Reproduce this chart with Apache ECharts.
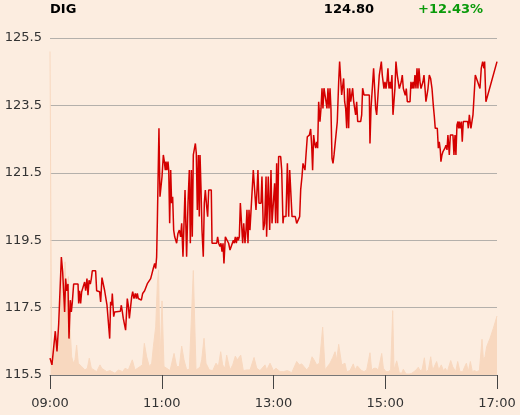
<!DOCTYPE html>
<html>
<head>
<meta charset="utf-8">
<script src="https://cdn.jsdelivr.net/npm/echarts@6/dist/echarts.min.js"></script>
<style>
html,body{margin:0;padding:0;background:#fcede0;}
#chart{width:520px;height:415px;}
</style>
</head>
<body>
<div id="chart"></div>
<script>
// Header values
const ticker = "DIG";
const lastPrice = "124.80";
const changePct = "+12.43%";

// Axis ticks
const yTicks = [115.5, 117.5, 119.5, 121.5, 123.5, 125.5];
const xTickMinutes = [0, 120, 240, 360, 480]; // minutes after 09:00

// Price series: [minutes after 09:00, price]
const pricePoints = [
[0,116.0],[2.1,115.8],[5.7,116.8],[7.5,116.2],[9.3,117.0],[10.7,117.05],[12.2,119.0],[13.6,118.56],[15.0,118.56],[15.7,117.37],[16.8,118.36],[17.9,118.0],[19.3,118.2],[20.4,116.58],[21.8,117.72],[22.9,117.37],[24.0,117.67],[25.4,118.2],[30.1,118.2],[30.8,117.62],[31.8,118.0],[32.9,117.62],[34.0,117.97],[35.8,118.0],[37.2,118.26],[38.3,118.0],[39.7,118.36],[40.8,117.87],[41.9,118.31],[43.3,118.2],[44.4,118.36],[45.4,118.59],[49.0,118.59],[50.1,118.0],[53.3,117.97],[54.4,117.67],[55.8,118.39],[57.6,118.39],[58.7,118.0],[59.8,118.0],[61.2,117.57],[62.3,117.57],[64.1,116.58],[65.1,117.67],[66.2,117.57],[66.9,117.92],[68.4,117.23],[69.4,117.37],[70.9,117.39],[75.5,117.39],[76.6,117.57],[77.7,117.37],[78.7,117.18],[80.2,117.18],[81.2,116.83],[82.3,116.83],[83.0,117.77],[84.1,117.57],[85.2,117.18],[86.6,117.18],[87.7,117.82],[88.8,117.97],[90.2,117.77],[91.6,117.92],[92.7,117.77],[93.8,117.92],[94.8,117.77],[95.9,117.72],[98.1,117.72],[99.5,117.92],[100.6,117.87],[101.6,118.0],[103.4,118.0],[104.5,118.21],[105.6,118.16],[106.6,118.23],[108.1,118.36],[109.5,118.51],[110.9,118.66],[112.4,118.81],[113.5,118.66],[114.5,119.0],[115.3,120.1],
[117.0,122.82],[118.1,120.79],[119.2,120.79],[120.3,121.39],[121.7,122.03],[122.8,121.83],[123.8,121.58],[124.6,121.83],[125.6,121.58],[126.7,121.83],[127.5,121.58],[128.5,120.0],[129.6,121.58],[130.6,120.6],[131.7,120.79],[132.8,119.8],[133.9,119.6],[135.3,119.6],[136.0,119.41],[137.4,119.7],[138.9,119.8],[140.3,119.6],[141.4,120.0],[142.8,119.01],[145.0,120.99],[146.7,119.01],[148.2,120.6],[149.6,121.58],[150.7,119.41],[151.8,121.58],[152.8,119.6],[153.9,122.03],[156.1,122.37],[157.1,122.08],[158.2,120.4],[159.3,122.03],[160.3,120.2],[161.1,122.03],[162.1,121.09],[163.2,119.8],[164.6,119.01],[165.7,120.6],[166.8,120.99],[168.2,120.5],[169.3,120.2],[170.4,120.99],[173.2,120.99],[174.0,119.41],[179.0,119.41],[180.0,119.6],[181.1,119.41],[182.5,119.31],[183.6,119.41],[184.7,119.16],[185.8,119.41],[186.8,118.81],[188.3,119.6],[190.4,119.6],[191.8,119.41],[193.3,119.21],[195.4,119.21],[196.9,119.5],[197.9,119.41],[199.0,119.6],[200.1,119.41],[201.2,119.6],[202.2,119.5],[203.3,119.6],[204.4,120.6],[205.8,120.6],[206.9,119.41],[208.0,120.0],[209.4,119.41],[210.5,119.8],[211.5,120.4],[212.6,119.41],[213.7,120.4],[214.7,119.8],[216.5,119.8],[218.3,121.58],[219.7,121.58],[221.2,120.4],[222.3,120.99],[223.3,121.58],[224.4,120.6],[226.6,120.6],[227.6,121.39],[229.1,119.8],[230.5,120.0],[232.0,121.39],[232.6,119.6],[234.4,121.39],
[235.9,119.8],[237.3,121.58],[238.4,120.0],[240.0,120.0],[241.2,121.19],[242.3,120.0],[243.4,121.78],[244.5,120.0],[245.5,121.98],[247.7,121.98],[248.8,121.58],[250.2,120.0],[250.9,120.2],[253.4,120.2],[254.9,121.78],[256.3,120.2],[257.4,121.58],[258.8,121.58],[259.9,120.2],[263.4,120.2],[264.9,120.0],[266.7,120.0],[268.1,120.2],[269.2,121.0],[270.6,121.39],[271.7,121.78],[272.8,121.78],[273.8,121.58],[274.9,122.03],[276.3,122.57],[278.5,122.62],[279.9,122.8],[281.0,122.32],[282.0,121.58],[283.1,122.62],[284.2,122.37],[285.3,122.23],[286.3,122.42],[287.4,122.23],[288.5,123.61],[289.9,123.02],[291.0,123.41],[292.1,124.01],[293.1,123.41],[294.2,124.01],[295.3,123.81],[296.4,123.61],[297.4,123.41],[298.5,124.01],[299.6,123.41],[300.7,124.01],[301.7,123.41],[302.8,121.93],[303.9,121.78],[305.0,122.03],[307.1,122.03],[308.5,123.02],[310.0,124.2],[311.0,124.8],[312.1,124.8],[313.2,123.81],[314.3,123.81],[315.3,124.3],[316.4,123.61],[317.5,123.41],[318.6,122.82],[319.6,124.01],[320.7,122.82],[321.8,124.01],[322.9,123.61],[325.0,124.01],[326.1,123.61],[327.1,123.61],[328.2,123.22],[329.3,123.61],[330.4,123.02],[333.6,123.02],[334.7,123.22],[335.7,124.01],[337.2,123.81],[342.9,123.81],[343.6,122.37],[344.7,123.41],[346.0,123.41],[347.5,124.6],[348.6,124.01],[349.7,123.41],[350.8,123.22],[352.2,123.81],[353.6,124.4],
[355.8,124.8],[356.8,124.4],[357.5,124.4],[358.6,124.0],[359.7,124.2],[360.8,124.0],[361.8,124.2],[362.9,124.6],[364.0,124.0],[365.0,124.2],[366.1,124.0],[367.2,124.4],[368.3,123.22],[369.4,123.22],[370.4,124.0],[371.5,124.8],[372.9,124.4],[374.0,124.2],[375.1,124.0],[376.1,124.0],[377.2,124.2],[378.3,124.4],[379.4,124.0],[380.4,124.0],[381.5,123.8],[382.6,124.0],[383.7,123.61],[386.6,123.61],[387.6,124.2],[388.7,124.0],[389.8,124.2],[390.8,124.0],[391.9,124.4],[393.0,124.0],[394.1,124.6],[395.1,124.0],[396.2,124.6],[397.3,124.2],[398.4,124.0],[399.4,124.0],[400.5,124.2],[401.6,124.4],[402.7,124.0],[403.7,123.61],[404.8,123.8],[405.9,124.0],[407.3,124.4],[408.7,124.3],[410.2,124.0],[411.6,123.5],[412.7,123.17],[413.7,122.82],[415.9,122.82],[417.0,122.23],[418.0,122.42],[419.1,122.18],[419.8,121.83],[420.9,122.03],[422.0,122.13],[423.1,122.18],[424.1,122.23],[425.2,122.32],[426.3,122.18],[427.3,122.62],[428.8,122.03],[429.9,122.62],[432.7,122.62],[433.8,122.03],[434.9,122.62],[435.9,122.03],[437.0,122.92],[438.1,123.02],[438.8,122.82],[439.5,123.02],[440.6,122.82],[441.7,123.02],[442.7,122.42],[443.8,123.02],[448.5,123.02],[449.2,122.82],[450.3,123.22],[452.0,122.82],[453.1,122.82],[454.2,123.22],[455.6,123.22],[456.7,124.4],[458.1,124.4],[459.2,124.2],[460.6,124.2],[461.7,124.0],[463.1,124.6],[464.6,124.8],[466.0,124.6],[466.7,124.8],[468.1,123.61],[480,124.8]
];

// Volume series (estimated relative units): [minutes after 09:00, volume]
const volumePoints = [
[0,96],[0.7,96],[1.8,2.5],[3.6,4.5],[5.4,12.9],[7.2,5.4],[9.0,8.4],[10.7,14.3],[12.5,32.2],[14.3,16.3],[16.1,33.6],[17.9,20.3],[19.7,29.2],[21.5,14.3],[23.3,5.4],[25.1,3.5],[26.8,4.5],[28.6,8.9],[30.4,3.5],[32.2,3],[34.0,2.5],[35.8,2],[37.6,1.5],[40.1,2],[42.2,5],[44.4,2],[46.5,2],[50.1,1],[53.7,3],[55.5,2],[57.3,2],[60.9,1],[64.4,1.3],[66.2,1],[69.8,0.5],[73.4,1.5],[75.2,1],[78.0,1],[80.6,2],[82.3,1.5],[84.1,1.5],[88.4,4.5],[91.3,1.5],[93.1,1.5],[96.7,2.5],[99.2,3],[101.3,9.4],[103.8,5.4],[106.7,2.5],[109.2,3.5],[111.0,8.4],[113.5,14.3],[115.3,27.2],[116.6,31.2],[118.1,3.5],[120.3,22],[122.4,2.5],[125.3,2],[128.9,1.3],[133.2,6.4],[136.0,2.5],[138.9,2.5],[141.4,8.6],[143.9,4.5],[146.8,1.5],[149.6,1.7],[153.9,31],[156.8,1.5],[161.1,2.3],[162.9,4.5],[165.4,10.9],[167.5,3.5],[171.1,1.5],[174.7,1.3],[178.3,3.5],[180.8,2.5],[183.3,6.9],[185.4,3],[188.0,2],[189.7,5.9],[193.3,1.5],[196.2,3],[199.0,5.6],[201.2,4.5],[204.8,5.9],[207.6,1.3],[211.2,1.5],[214.8,1.5],[219.1,5.2],[222.0,2],[225.5,1.3],[230.9,3],[232.7,1.5],[236.3,3.5],[239.9,1.3],[242.7,2],[247.0,1],[250.6,1],[254.9,1.3],[259.6,0.7],[264.9,4],[267.8,3],[270.3,3.3],[272.1,3],[275.7,1.5],[278.5,2.5],[281.4,5.4],[283.5,4.5],[286.4,3],[289.3,3.5],[292.8,14.2],[295.4,1.5],[297.9,2.5],[300.7,3.5],[303.6,5.2],[306.1,6.9],[307.9,4.5],[310.0,9.1],[313.3,3],[316.8,3.5],[318.6,1],[322.1,1.3],[325.7,3.3],[327.5,1.5],[330.0,2.7],[332.2,2],[334.7,1.3],[337.2,1],[340.1,1.5],[343.6,6.6],[345.4,1.5],[347.9,2],[350.1,2],[352.6,1.5],[356.2,6.4],[358.0,2],[360.8,1],[363.3,1],[365.8,1.5],[368.0,19.1],[369.4,1.5],[372.3,4.2],[375.1,0.7],[377.6,0.5],[379.4,1.7],[382.3,0.3],[385.9,0.3],[388.4,0.5],[390.9,1],[393.8,1.7],[395.5,2.3],[397.3,1.3],[399.5,1.5],[402.0,5.1],[403.8,1],[406.3,1.5],[408.8,5.4],[411.0,1.3],[412.7,2.5],[415.2,4],[417.4,1.5],[420.2,3],[422.4,1.3],[424.5,2],[426.7,1],[430.3,4.3],[432.4,2.5],[433.9,2],[435.6,1],[437.8,4],[440.3,1],[443.2,1],[444.6,2],[447.1,3.5],[449.2,1],[451.4,4],[453.5,1],[455.7,1.3],[458.2,1],[461.1,1.3],[463.9,10.6],[465.4,4.5],[467.1,5.4],[468.9,8.4],[472.5,10.9],[476.1,13.9],[480,17.5]
];

const FONT = "DejaVu Sans";
const chart = echarts.init(document.getElementById('chart'), null, {renderer:'canvas'});
function fmtTime(m){ const h = 9 + Math.round(m/60); return (h<10?'0':'')+h+':00'; }

chart.setOption({
  backgroundColor: '#fcede0',
  animation: false,
  grid: {left:50, right:23, top:38, bottom:40, containLabel:false},
  graphic: [
    {type:'text', left:50, top:3, style:{text:ticker, font:'bold 13px "DejaVu Sans"', fill:'#000'}},
    {type:'text', right:146, top:3, style:{text:lastPrice, font:'bold 13px "DejaVu Sans"', fill:'#000'}},
    {type:'text', left:418, top:3, style:{text:changePct, font:'bold 13px "DejaVu Sans"', fill:'#0a9a0a'}}
  ],
  xAxis: {
    type:'value', min:0, max:480, interval:120,
    axisLine:{show:true, lineStyle:{color:'#777', width:1}},
    axisTick:{show:true, length:14, lineStyle:{color:'#444', width:1}},
    axisLabel:{formatter:fmtTime, color:'#333', fontFamily:FONT, fontSize:13, margin:22},
    splitLine:{show:false}
  },
  yAxis: [
    {
      type:'value', min:yTicks[0], max:yTicks[yTicks.length-1], interval:2,
      axisLine:{show:false}, axisTick:{show:false},
      axisLabel:{formatter:v=>v.toFixed(1), color:'#333', fontFamily:FONT, fontSize:13, margin:8},
      splitLine:{show:true, lineStyle:{color:'#b4b0ab', width:1}}
    },
    {type:'value', min:0, max:100, show:false, splitLine:{show:false}}
  ],
  series: [
    {
      type:'line', yAxisIndex:1, data:volumePoints, showSymbol:false, symbol:'none',
      lineStyle:{width:1, color:'#f8d8bf'}, areaStyle:{color:'#f8d8bf', opacity:1}, z:1
    },
    {
      type:'line', yAxisIndex:0, data:pricePoints, showSymbol:false, symbol:'none',
      lineStyle:{width:1.5, color:'#d40000'}, z:3
    }
  ]
});
</script>
</body>
</html>
